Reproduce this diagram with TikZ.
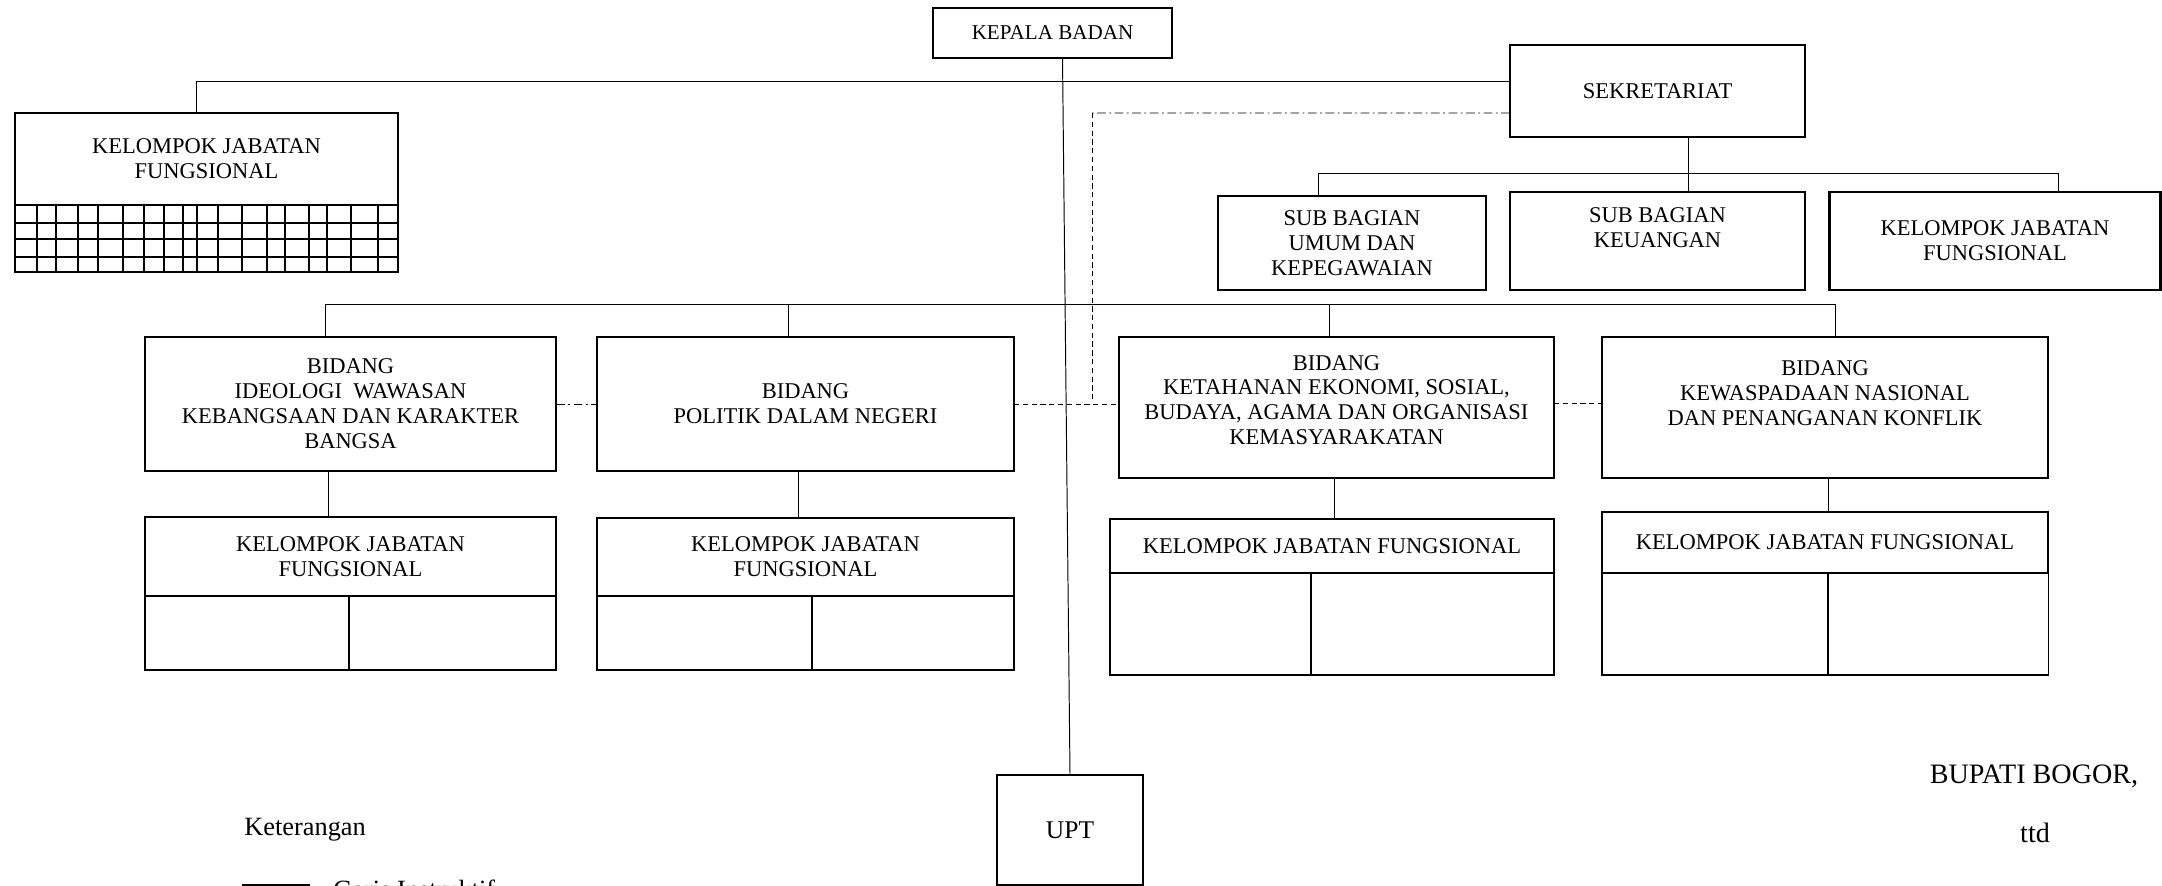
\documentclass[tikz,border=0pt]{standalone}
\usepackage{fontspec}
\setmainfont{Liberation Serif}
\usetikzlibrary{calc}
\newcommand{\unitfont}{\fontsize{12.8}{14.2}\selectfont}
\tikzset{
  unit/.style={draw, line width=1.2pt, font=\unitfont, align=center,
               inner sep=2pt, outer sep=0pt},
  link/.style={line width=0.55pt},
  cellbox/.style={line width=0.6pt},
  koordline/.style={line width=0.55pt, dash pattern=on 3pt off 2pt},
  koorddot/.style={line width=0.55pt, dash pattern=on 5pt off 2pt on 1pt off 2pt},
  note/.style={font=\fontsize{15}{17}\selectfont, inner sep=0pt},
}

\begin{document}
\begin{tikzpicture}[x=0.2mm, y=-0.2mm]
  \useasboundingbox (0,0) rectangle (2162,886);
  \clip (0,0) rectangle (2162,886);

  % Kepala badan
  \node[unit, font=\fontsize{12}{13}\selectfont, minimum width=47.8mm, minimum height=10mm]
       (kepala) at (1052.5,33) {KEPALA BADAN};

  % Sekretariat
  \node[unit, minimum width=59mm, minimum height=18.4mm] (sekre) at (1657.5,91) {SEKRETARIAT};
  \node[unit, minimum width=53.6mm, minimum height=18.8mm] (subumum) at (1352,243)
       {SUB BAGIAN\\UMUM DAN\\KEPEGAWAIAN};
  \node[unit, minimum width=59mm, minimum height=19.6mm, text depth=5.5mm] (subkeu) at (1657.5,241)
       {SUB BAGIAN\\KEUANGAN};
  \node[unit, minimum width=66.2mm, minimum height=19.6mm] (kjfsek) at (1995,241)
       {KELOMPOK JABATAN\\FUNGSIONAL};

  % Kelompok jabatan fungsional kiri
  \node[unit, minimum width=76.6mm, minimum height=18.4mm] (kjftop) at (206.5,159)
       {KELOMPOK JABATAN\\FUNGSIONAL};
  \coordinate (gridend) at (398,272);
  \draw[line width=1.2pt] (kjftop.south west) rectangle (gridend);
  \foreach \y in {223,239,257} \draw[cellbox] (15,\y) -- (398,\y);
  \foreach \x in {37,56,78,98,123,144,164,183,197,218,242,267,285,309,327,351,378}
    \draw[cellbox] (\x,205) -- (\x,272);

  % Bidang
  \node[unit, minimum width=82.2mm, minimum height=26.8mm] (bid1) at (350.5,404)
       {BIDANG\\IDEOLOGI\ \ WAWASAN\\KEBANGSAAN DAN KARAKTER\\BANGSA};
  \node[unit, minimum width=83.4mm, minimum height=26.8mm] (bid2) at (805.5,404)
       {BIDANG\\POLITIK DALAM NEGERI};
  \node[unit, minimum width=87mm, minimum height=28.2mm, text depth=3mm] (bid3) at (1336.5,407.5)
       {BIDANG\\KETAHANAN EKONOMI, SOSIAL,\\BUDAYA, AGAMA DAN ORGANISASI\\KEMASYARAKATAN};
  \node[unit, minimum width=89.2mm, minimum height=28.2mm, text depth=5.8mm] (bid4) at (1825,407.5)
       {BIDANG\\KEWASPADAAN NASIONAL\\DAN PENANGANAN KONFLIK};

  % Kelompok jabatan fungsional bidang
  \node[unit, minimum width=82.2mm, minimum height=15.8mm] (kjf1) at (350.5,556.5)
       {KELOMPOK JABATAN\\FUNGSIONAL};
  \node[unit, minimum width=83.4mm, minimum height=15.6mm] (kjf2) at (805.5,557)
       {KELOMPOK JABATAN\\FUNGSIONAL};
  \node[unit, minimum width=88.8mm, minimum height=10.8mm] (kjf3) at (1332,546)
       {KELOMPOK JABATAN FUNGSIONAL};
  \node[unit, minimum width=89.2mm, minimum height=12.2mm] (kjf4) at (1825,542.5)
       {KELOMPOK JABATAN FUNGSIONAL};
  \foreach \i/\b/\d in {1/670/349, 2/670/812, 3/675/1311, 4/675/1828} {
    \coordinate (cb\i) at (\d,\b);
    \draw[cellbox] (kjf\i.south west) rectangle (kjf\i.east |- cb\i);
    \draw[cellbox] (kjf\i.south -| cb\i) -- (cb\i);
  }

  % UPT
  \node[unit, font=\fontsize{14.5}{16}\selectfont, minimum width=29.2mm, minimum height=22mm]
       (upt) at (1070,830) {UPT};

  % Garis instruktif
  \draw[link] ($(kepala.south)+(10,0)$) -- (upt.north);
  \draw[link] ([xshift=-2.1mm]kjftop.north) |- ([yshift=2mm]sekre.west);
  \coordinate (sekbar) at (1688,173);
  \coordinate (sekL) at (1318,173);
  \coordinate (sekR) at (2058,173);
  \draw[link] (sekre.south -| sekbar) -- (sekbar) -- (subkeu.north -| sekbar);
  \draw[link] (subumum.north -| sekL) -- (sekL) -- (sekR) -- (kjfsek.north -| sekR);
  \foreach \i/\x in {1/325, 2/788, 3/1329, 4/1835} {
    \coordinate (bt\i) at (\x,304);
    \draw[link] (bt\i) -- (bid\i.north -| bt\i);
  }
  \draw[link] (bt1) -- (bt4);
  \foreach \i/\x in {1/328, 2/798, 3/1334, 4/1828} {
    \coordinate (st\i) at (\x,0);
    \draw[link] (bid\i.south -| st\i) -- (kjf\i.north -| st\i);
  }

  % Garis koordinasi
  \coordinate (sekcorner) at (1092,113);
  \coordinate (koordend) at (1092,400);
  \draw[koorddot] ([yshift=-4.4mm]sekre.west) -- (sekcorner);
  \draw[koordline] (sekcorner) -- (koordend);
  \draw[koorddot] (bid1.east) -- (bid2.west);
  \draw[koordline] (bid2.east) -- (bid2.east -| bid3.west);
  \coordinate (k34) at ([yshift=0.9mm]bid3.east);
  \draw[koordline] (k34) -- (k34 -| bid4.west);

  % Keterangan
  \node[note, anchor=west] (ket) at (244,830) {Keterangan};
  \coordinate (legA) at (242,885);
  \coordinate (legB) at (310,885);
  \draw[line width=1.2pt] (legA) -- (legB);
  \node[note, anchor=base west] (garis) at (333,898) {Garis Instruktif};

  % Pengesahan
  \node[note, font=\fontsize{16}{18}\selectfont] (bupati) at (2034,776) {BUPATI BOGOR,};
  \node[note, font=\fontsize{16}{18}\selectfont] (ttd) at (2035,833) {ttd};
\end{tikzpicture}
\end{document}
